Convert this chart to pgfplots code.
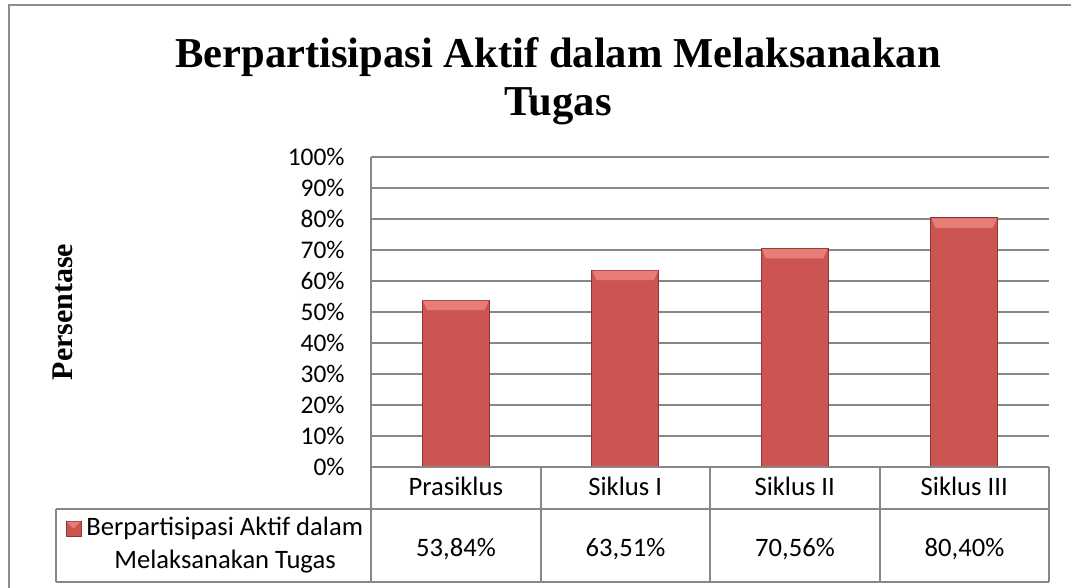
\documentclass[border=0pt]{standalone}
\usepackage{fontspec}
\setmainfont{Carlito}
\newfontfamily\tnr{Liberation Serif}
\usepackage{pgfplots}
\pgfplotsset{compat=1.18}
\definecolor{barFace}{HTML}{CC5551}
\definecolor{barTop}{HTML}{E67D79}
\definecolor{barEdge}{HTML}{8E3431}
\definecolor{gridGray}{HTML}{878787}
\definecolor{frameGray}{HTML}{8C8C8C}
\newcommand{\lbl}{\fontsize{12.7pt}{15pt}\selectfont}
\newcommand{\tbl}{\fontsize{13.3pt}{16pt}\selectfont}
% top bevel of a bar, hung under the data point
\pgfdeclareplotmark{bevel}{%
  \pgfpathmoveto{\pgfqpoint{-16.4pt}{-0.3pt}}%
  \pgfpathlineto{\pgfqpoint{16.4pt}{-0.3pt}}%
  \pgfpathlineto{\pgfqpoint{14.4pt}{-5pt}}%
  \pgfpathlineto{\pgfqpoint{-14.4pt}{-5pt}}%
  \pgfpathclose
  \pgfusepathqfill}
\begin{document}
\begin{tikzpicture}[x=0.5pt,y=-0.5pt]
\useasboundingbox (0,0) rectangle (1071,588);
\draw[frameGray, line width=1pt] (9,600) -- (9,5) -- (1080,5);
% title and y label
\node[anchor=base, inner sep=0pt, font=\tnr\bfseries\fontsize{21.3pt}{25pt}\selectfont] at (558,68) {Berpartisipasi Aktif dalam Melaksanakan};
\node[anchor=base, inner sep=0pt, font=\tnr\bfseries\fontsize{21.3pt}{25pt}\selectfont] at (558,116) {Tugas};
\node[rotate=90, anchor=base, inner sep=0pt, font=\tnr\bfseries\fontsize{15pt}{18pt}\selectfont] at (72,312) {Persentase};

\begin{axis}[
  at={(185.5pt,-233.5pt)}, anchor=south west,
  scale only axis, width=339pt, height=155pt,
  xmin=0.5, xmax=4.5, ymin=0, ymax=100,
  axis line style={draw=none},
  major tick length=0pt, tick style={draw=none},
  ytick={0,10,20,30,40,50,60,70,80,90,100},
  yticklabels={0\%,10\%,20\%,30\%,40\%,50\%,60\%,70\%,80\%,90\%,100\%},
  yticklabel style={font=\lbl, anchor=east, inner sep=0pt, xshift=-13pt},
  xtick={1,2,3,4},
  xticklabels={Prasiklus,Siklus I,Siklus II,Siklus III},
  xticklabel style={font=\tbl, anchor=base, inner sep=0pt, yshift=-14pt},
  ymajorgrids, grid style={gridGray, line width=0.75pt},
  clip=false,
]
\addplot[ybar, bar width=0.394, fill=barFace, draw=barEdge, line width=0.5pt]
  coordinates {(1,53.84) (2,63.51) (3,70.56) (4,80.40)};
\addplot[only marks, mark=bevel, color=barTop]
  coordinates {(1,53.84) (2,63.51) (3,70.56) (4,80.40)};
\end{axis}

% data table
\begin{scope}[gridGray, line width=0.75pt]
\draw (371,157) -- (371,582);
\draw (371,467) -- (1049,467);
\draw (56,509) -- (1049,509);
\draw (56,582) -- (1049,582);
\draw (56,509) -- (56,582);
\foreach \xx in {541,710,880,1049} \draw (\xx,467) -- (\xx,582);
\end{scope}
\foreach \xx/\vv in {456/53{,}84\%, 625.5/63{,}51\%, 795/70{,}56\%, 964.5/80{,}40\%}
  \node[anchor=base, inner sep=0pt, font=\tbl] at (\xx,556) {\vv};
\fill[barFace, draw=barEdge, line width=0.4pt] (66,521) rectangle (81,536);
\fill[barTop] (66.5,521.5) -- (80.5,521.5) -- (73.5,528.5) -- cycle;
\node[anchor=base west, inner sep=0pt, font=\tbl] at (86,535) {Berpartisipasi Aktif dalam};
\node[anchor=base, inner sep=0pt, font=\tbl] at (225,568) {Melaksanakan Tugas};
\end{tikzpicture}
\end{document}
